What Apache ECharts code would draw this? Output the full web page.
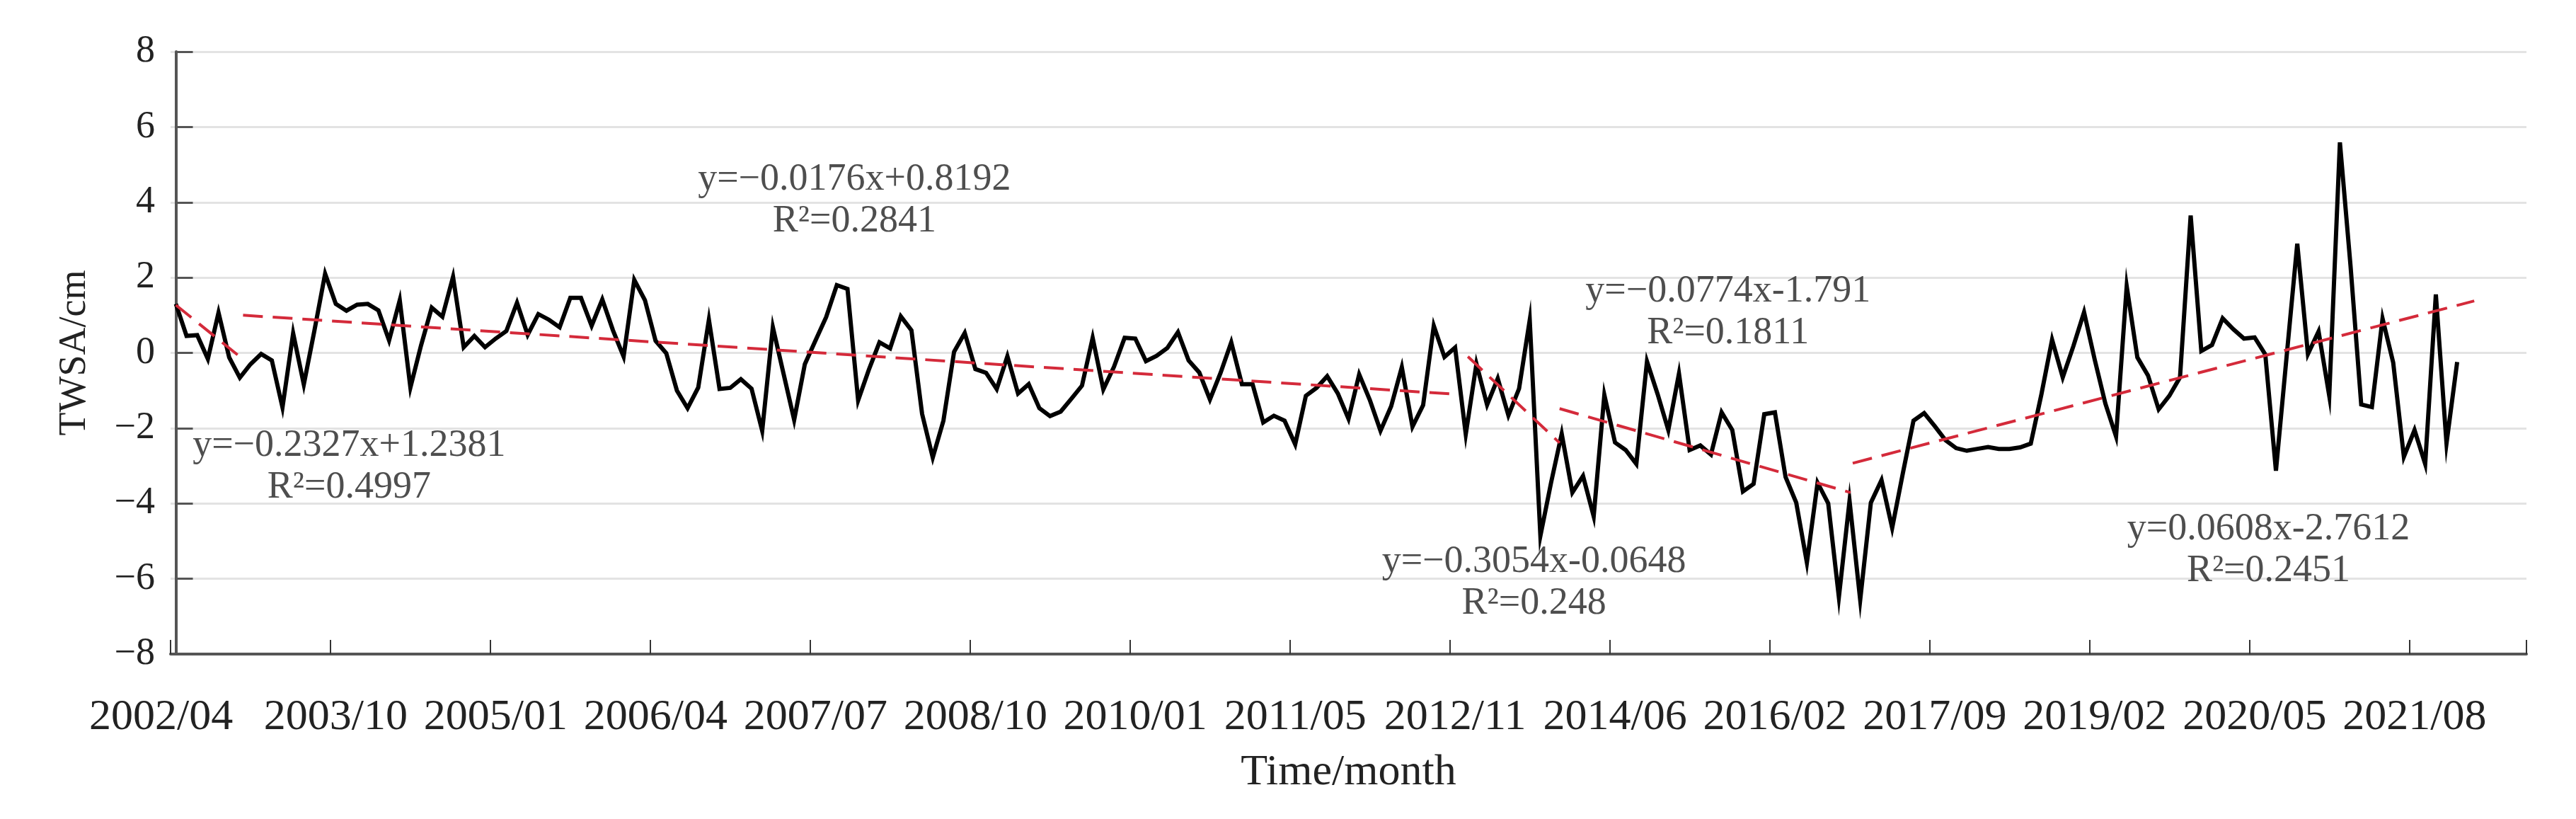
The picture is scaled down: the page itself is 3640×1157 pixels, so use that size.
<!DOCTYPE html>
<html>
<head>
<meta charset="utf-8">
<script src="https://cdn.jsdelivr.net/npm/echarts@6/dist/echarts.min.js"></script>
<style>
  html, body { margin: 0; padding: 0; background: #ffffff; }
  #chart { width: 3640px; height: 1157px; }
</style>
</head>
<body>
<div id="chart"></div>
<script>
// ---- data ----
const tickLabels = ['2002/04','2003/10','2005/01','2006/04','2007/07','2008/10','2010/01',
  '2011/05','2012/11','2014/06','2016/02','2017/09','2019/02','2020/05','2021/08'];
const CATEGORY_COUNT = 221;   // months on the axis (15 per labelled tick)
const TICK_STEP = 15;

const twsa = [
  1.3, 0.45, 0.47, -0.16, 1.07, -0.12, -0.66, -0.3, -0.03, -0.2,
  -1.45, 0.52, -0.84, 0.6, 2.1, 1.3, 1.12, 1.28, 1.3, 1.13,
  0.33, 1.4, -0.92, 0.2, 1.2, 0.96, 2.02, 0.15, 0.45, 0.15,
  0.38, 0.58, 1.33, 0.48, 1.03, 0.88, 0.68, 1.46, 1.46, 0.72,
  1.42, 0.6, -0.1, 1.94, 1.4, 0.32, -0.01, -1.0, -1.47, -0.92,
  0.88, -0.96, -0.93, -0.7, -0.95, -2.07, 0.68, -0.55, -1.78, -0.3,
  0.33, 0.95, 1.8, 1.7, -1.26, -0.45, 0.28, 0.12, 0.97, 0.6,
  -1.62, -2.78, -1.8, 0.03, 0.53, -0.43, -0.53, -0.96, -0.09, -1.08,
  -0.83, -1.47, -1.68, -1.56, -1.22, -0.87, 0.4, -0.97, -0.37, 0.4,
  0.38, -0.22, -0.08, 0.13, 0.55, -0.2, -0.52, -1.24, -0.53, 0.28,
  -0.83, -0.83, -1.85, -1.67, -1.8, -2.43, -1.14, -0.93, -0.62, -1.08,
  -1.75, -0.57, -1.25, -2.07, -1.42, -0.38, -1.96, -1.39, 0.72, -0.11,
  0.14, -2.16, -0.29, -1.38, -0.68, -1.66, -0.95, 0.87, -4.86, -3.45,
  -2.15, -3.71, -3.27, -4.34, -1.12, -2.38, -2.58, -2.95, -0.23, -1.1,
  -2.05, -0.55, -2.58, -2.46, -2.7, -1.58, -2.05, -3.68, -3.48, -1.63,
  -1.58, -3.3, -3.98, -5.57, -3.45, -4.0, -6.49, -3.93, -6.56, -3.98,
  -3.38, -4.65, -3.2, -1.8, -1.6, -1.95, -2.32, -2.53, -2.6, -2.55,
  -2.5, -2.55, -2.55, -2.51, -2.41, -1.1, 0.35, -0.65, 0.18, 1.08,
  -0.18, -1.35, -2.22, 1.77, -0.12, -0.6, -1.5, -1.14, -0.65, 3.65,
  0.05, 0.21, 0.92, 0.63, 0.38, 0.41, -0.04, -3.13, -0.1, 2.9,
  -0.03, 0.57, -1.14, 5.59, 2.3, -1.37, -1.44, 0.91, -0.26, -2.76,
  -2.05, -2.95, 1.55, -2.4, -0.24
];

// piecewise linear trend segments: [monthIndex, value] end points
const trendSegments = [
  [[0, 1.27], [6.3, -0.17]],
  [[6.3, 1.0], [120.1, -1.1]],
  [[121.2, -0.1], [129.8, -2.39]],
  [[129.8, -1.48], [157.1, -3.71]],
  [[157.3, -2.93], [215.6, 1.38]]
];

const equations = ['y=\u22120.2327x+1.2381', 'y=\u22120.0176x+0.8192', 'y=\u22120.3054x-0.0648',
  'y=\u22120.0774x-1.791', 'y=0.0608x-2.7612'];
const rSquared = ['R\u00B2=0.4997', 'R\u00B2=0.2841', 'R\u00B2=0.248', 'R\u00B2=0.1811', 'R\u00B2=0.2451'];
const labelAnchors = [[16.25, -3.03], [63.65, 4.05], [127.4, -6.1], [145.6, 1.07], [196.3, -5.24]];

// ---- chart ----
const FONT = 'Liberation Serif';
const TEXT = '#222222';
const categories = Array.from({ length: CATEGORY_COUNT }, (_, i) => 'm' + i);

const series = [{
  type: 'line',
  xAxisIndex: 0,
  data: twsa,
  symbol: 'none',
  lineStyle: { color: '#000000', width: 6, join: 'miter' },
  z: 3
}];

trendSegments.forEach(seg => {
  series.push({
    type: 'line',
    xAxisIndex: 1,
    data: seg,
    symbol: 'none',
    lineStyle: { color: '#d42a3a', width: 4, type: [28, 14] },
    z: 4
  });
});

series.push({
  type: 'scatter',
  xAxisIndex: 1,
  symbolSize: 0,
  data: labelAnchors.map((p, k) => ({ value: p, name: equations[k] + '\n' + rSquared[k] })),
  label: {
    show: true,
    position: 'inside',
    formatter: p => p.name,
    fontFamily: FONT,
    fontSize: 54,
    lineHeight: 59,
    color: TEXT,
    align: 'center'
  },
  z: 5
});

const chart = echarts.init(document.getElementById('chart'), null, { renderer: 'canvas' });
chart.setOption({
  backgroundColor: '#ffffff',
  animation: false,
  grid: { left: 241, right: 70, top: 73, bottom: 233, containLabel: false },
  xAxis: [{
    type: 'category',
    data: categories,
    boundaryGap: true,
    name: 'Time/month',
    nameLocation: 'middle',
    nameGap: 137,
    nameTextStyle: { fontFamily: FONT, fontSize: 62, color: TEXT },
    axisLine: { onZero: false, lineStyle: { color: '#555555', width: 4 } },
    axisTick: { show: true, inside: true, interval: TICK_STEP - 1, length: 20,
      lineStyle: { color: '#333333', width: 2 } },
    axisLabel: {
      interval: TICK_STEP - 1,
      margin: 59,
      fontFamily: FONT, fontSize: 62, color: TEXT,
      formatter: (v, idx) => (idx === 0 ? '{first|' + tickLabels[0] + '}'
        : (idx % TICK_STEP === 0 ? tickLabels[idx / TICK_STEP] : '')),
      rich: {
        first: { fontFamily: FONT, fontSize: 62, color: TEXT, padding: [0, 42, 0, 0] }
      }
    },
    splitLine: { show: false }
  }, {
    type: 'value',
    min: -0.5,
    max: CATEGORY_COUNT - 0.5,
    show: false,
    splitLine: { show: false }
  }],
  yAxis: {
    type: 'value',
    min: -8,
    max: 8,
    interval: 2,
    name: 'TWSA/cm',
    nameLocation: 'middle',
    nameGap: 108,
    nameRotate: 90,
    nameTextStyle: { fontFamily: FONT, fontSize: 54, color: TEXT },
    axisLine: { show: true, lineStyle: { color: '#555555', width: 4 } },
    axisTick: { show: true, inside: true, length: 24, lineStyle: { color: '#555555', width: 3 } },
    axisLabel: {
      margin: 22,
      fontFamily: FONT, fontSize: 54, color: TEXT,
      formatter: v => String(v).replace('-', '\u2212')
    },
    splitLine: { show: true, lineStyle: { color: '#e3e3e3', width: 3 } }
  },
  series: series
});
</script>
</body>
</html>
